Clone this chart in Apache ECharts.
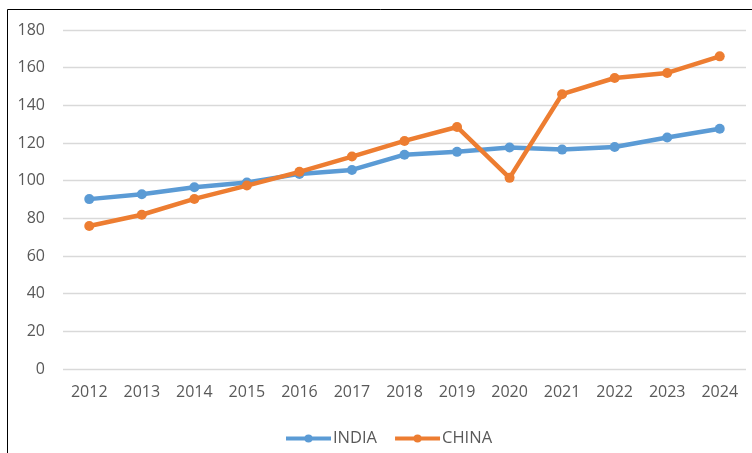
<!DOCTYPE html>
<html>
<head>
<meta charset="utf-8">
<script src="https://cdn.jsdelivr.net/npm/echarts@6/dist/echarts.min.js"></script>
<style>
  html, body { margin: 0; padding: 0; background: #fff; }
  #chart { width: 752px; height: 453px; }
</style>
</head>
<body>
<div id="chart"></div>
<script>
const years = ['2012', '2013', '2014', '2015', '2016', '2017', '2018', '2019', '2020', '2021', '2022', '2023', '2024']
const india = [90.2, 92.8, 96.5, 99, 103.6, 105.7, 113.8, 115.3, 117.6, 116.5, 117.9, 122.9, 127.6]
const china = [75.9, 81.9, 90.3, 97.4, 104.7, 112.8, 121.1, 128.5, 101.5, 145.9, 154.5, 157.2, 166]

const textColor = '#595959'
const font = 'Open Sans'

const chart = echarts.init(document.getElementById('chart'))

chart.setOption({
  animation: false,
  color: ['#5B9BD5', '#ED7D31'],
  graphic: [
    // frame of the chart area (left and top edges show)
    { type: 'line', shape: { x1: 7.5, y1: 9.5, x2: 7.5, y2: 460 }, style: { stroke: '#000', lineWidth: 1 } },
    { type: 'line', shape: { x1: 7.5, y1: 9.5, x2: 760, y2: 9.5 }, style: { stroke: '#000', lineWidth: 1 } }
  ],
  grid: {
    left: 63,
    right: 6,
    top: 30,
    bottom: 84
  },
  legend: {
    top: 425,
    left: 279,
    itemWidth: 45,
    itemHeight: 10,
    itemGap: 16,
    lineStyle: { width: 4 },
    textStyle: { color: textColor, fontSize: 16.5, fontFamily: font, padding: [0, 0, 0, -3] },
    data: ['INDIA', 'CHINA']
  },
  xAxis: {
    type: 'category',
    data: years,
    boundaryGap: true,
    axisLine: { show: false },
    axisTick: { show: false },
    axisLabel: { color: textColor, fontSize: 16, fontFamily: font, margin: 15 }
  },
  yAxis: {
    type: 'value',
    min: 0,
    max: 180,
    interval: 20,
    axisLine: { show: false },
    axisTick: { show: false },
    axisLabel: { color: textColor, fontSize: 16, fontFamily: font, margin: 18 },
    splitLine: { lineStyle: { color: '#D9D9D9', width: 1.3 } }
  },
  series: [
    {
      name: 'INDIA',
      type: 'line',
      data: india,
      symbol: 'circle',
      symbolSize: 10,
      lineStyle: { width: 4.5 },
      z: 2
    },
    {
      name: 'CHINA',
      type: 'line',
      data: china,
      symbol: 'circle',
      symbolSize: 10,
      lineStyle: { width: 4.5 },
      z: 3
    }
  ]
})
</script>
</body>
</html>
